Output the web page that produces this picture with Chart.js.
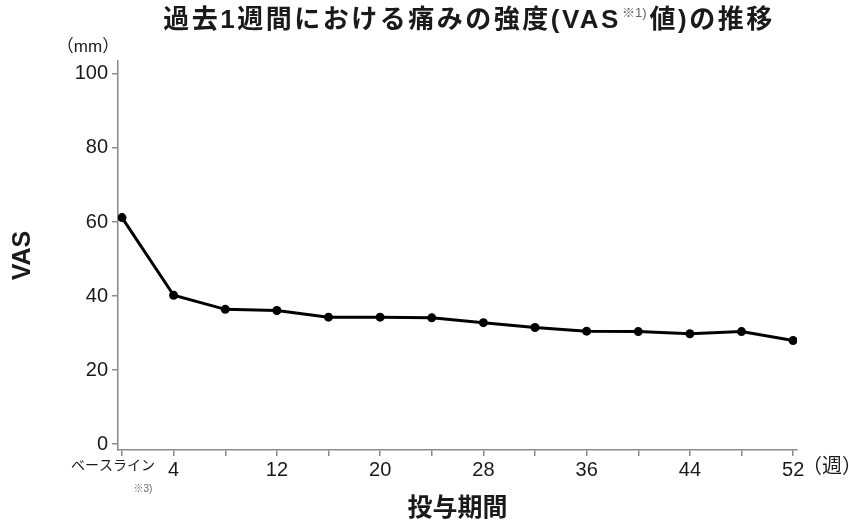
<!DOCTYPE html>
<html>
<head>
<meta charset="utf-8">
<script src="https://cdn.jsdelivr.net/npm/chart.js@4/dist/chart.umd.min.js"></script>
<style>
  html, body { margin: 0; padding: 0; background: #fff; }
  #wrap { width: 849px; height: 524px; }
</style>
</head>
<body>
<div id="wrap"><canvas id="vasChart"></canvas></div>
<script>
const weeks = [0, 4, 8, 12, 16, 20, 24, 28, 32, 36, 40, 44, 48, 52];
const vasValues = [61.2, 40.2, 36.4, 36.1, 34.3, 34.3, 34.1, 32.8, 31.5, 30.5, 30.4, 29.8, 30.4, 28.0];
const xTicks = [0, 4, 8, 12, 16, 20, 24, 28, 32, 36, 40, 44, 48, 52];
const xTickLabels = ['ベースライン　 ', '4', '', '12', '', '20', '', '28', '', '36', '', '44', '', '52'];
const yTicks = [0, 20, 40, 60, 80, 100];

const FONT = '"Liberation Sans", "Noto Sans CJK JP", sans-serif';
const AXIS_GREY = '#8a8a8a';

// extra labels the library has no slot for
const extraText = {
  id: 'extraText',
  afterDraw(chart) {
    const ctx = chart.ctx;
    const area = chart.chartArea;
    ctx.save();
    ctx.fillStyle = '#1a1a1a';
    ctx.textBaseline = 'middle';

    // title with superscript note
    const main1 = '過去1週間における痛みの強度(VAS';
    const sup = '※1)';
    const main2 = '値)の推移';
    ctx.letterSpacing = '2.5px';
    ctx.font = 'bold 26px ' + FONT;
    const w1 = ctx.measureText(main1).width;
    const w2 = ctx.measureText(main2).width;
    ctx.letterSpacing = '0px';
    ctx.font = '13px ' + FONT;
    const ws = ctx.measureText(sup).width + 4;
    let x = 469 - (w1 + ws + w2) / 2;
    ctx.textAlign = 'left';
    ctx.letterSpacing = '2.5px';
    ctx.font = 'bold 26px ' + FONT;
    ctx.fillText(main1, x, 21);
    x += w1 + 1;
    ctx.letterSpacing = '0px';
    ctx.font = '13px ' + FONT;
    ctx.fillStyle = '#666';
    ctx.fillText(sup, x, 13);
    x += ws - 1;
    ctx.fillStyle = '#1a1a1a';
    ctx.letterSpacing = '2.5px';
    ctx.font = 'bold 26px ' + FONT;
    ctx.fillText(main2, x, 21);
    ctx.letterSpacing = '0px';

    // unit labels
    ctx.font = '17px ' + FONT;
    ctx.textAlign = 'center';
    ctx.fillText('（mm）', 88, 47);
    ctx.font = '20px ' + FONT;
    ctx.textAlign = 'left';
    ctx.fillText('（週）', area.right + 5, 467);

    // footnote under the baseline label
    const x0 = chart.scales.x.getPixelForValue(0);
    ctx.font = '10px ' + FONT;
    ctx.fillStyle = '#666';
    ctx.textAlign = 'center';
    ctx.fillText('※3)', x0 + 21, 489);
    ctx.restore();
  }
};

new Chart(document.getElementById('vasChart'), {
  type: 'line',
  data: {
    datasets: [{
      data: weeks.map((w, i) => ({ x: w, y: vasValues[i] })),
      borderColor: '#000',
      backgroundColor: '#000',
      borderWidth: 3,
      pointRadius: 4.5,
      pointBackgroundColor: '#000',
      pointBorderWidth: 0,
      tension: 0
    }]
  },
  plugins: [extraText],
  options: {
    responsive: true,
    maintainAspectRatio: false,
    animation: false,
    layout: { padding: { left: 0, right: 52, top: 61, bottom: 0 } },
    plugins: {
      legend: { display: false },
      title: { display: false },
      tooltip: { enabled: false }
    },
    scales: {
      x: {
        type: 'linear',
        min: -0.31,
        max: 52.3,
        afterBuildTicks: s => { s.ticks = xTicks.map(v => ({ value: v })); },
        afterFit: s => { s.height = 74; },
        grid: { drawOnChartArea: false, drawTicks: true, tickLength: 6, color: AXIS_GREY, lineWidth: 1.5 },
        border: { color: AXIS_GREY, width: 1.5 },
        ticks: {
          autoSkip: false,
          maxRotation: 0,
          padding: 2,
          color: '#1a1a1a',
          font: c => (c.tick && c.tick.value === 0) ? { family: FONT, size: 14 } : { family: FONT, size: 20 },
          callback: v => xTickLabels[xTicks.indexOf(v)]
        },
        title: {
          display: true,
          text: '投与期間',
          color: '#1a1a1a',
          font: { family: FONT, size: 25, weight: 'bold', lineHeight: 1 },
          padding: { top: 0, bottom: 2 }
        }
      },
      y: {
        min: -1.6,
        max: 103.5,
        afterBuildTicks: s => { s.ticks = yTicks.map(v => ({ value: v })); },
        afterFit: s => { s.width = 118; },
        grid: { drawOnChartArea: false, drawTicks: true, tickLength: 6, color: AXIS_GREY, lineWidth: 1.5 },
        border: { color: AXIS_GREY, width: 1.5 },
        ticks: {
          padding: 4,
          color: '#1a1a1a',
          font: { family: FONT, size: 20 }
        },
        title: {
          display: true,
          text: 'VAS',
          color: '#1a1a1a',
          font: { family: FONT, size: 25, weight: 'bold', lineHeight: 1 },
          padding: { top: 11, bottom: 0 }
        }
      }
    }
  }
});
</script>
</body>
</html>
